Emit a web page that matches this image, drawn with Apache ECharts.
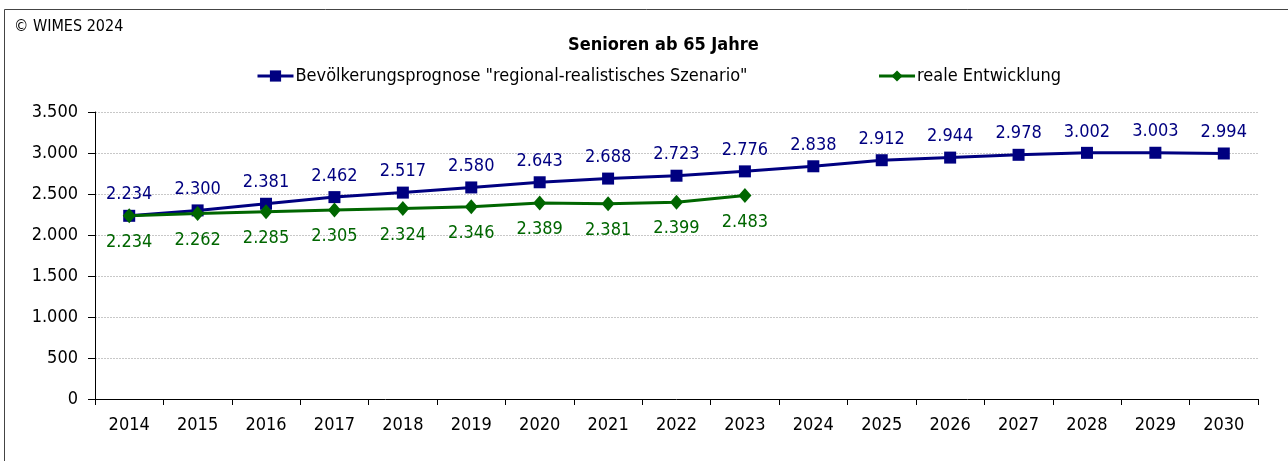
<!DOCTYPE html>
<html>
<head>
<meta charset="utf-8">
<script src="https://cdn.jsdelivr.net/npm/echarts@6/dist/echarts.min.js"></script>
<style>
  html, body { margin: 0; padding: 0; background: #fff; }
  #main { width: 1288px; height: 461px; }
</style>
</head>
<body>
<div id="main"></div>
<script>
// Jahre (Kategorien)
const years = ['2014', '2015', '2016', '2017', '2018', '2019', '2020', '2021', '2022',
  '2023', '2024', '2025', '2026', '2027', '2028', '2029', '2030'];
// Bevölkerungsprognose "regional-realistisches Szenario"
const prognose = [2234, 2300, 2381, 2462, 2517, 2580, 2643, 2688, 2723, 2776,
  2838, 2912, 2944, 2978, 3002, 3003, 2994];
// reale Entwicklung (bis 2023)
const real = [2234, 2262, 2285, 2305, 2324, 2346, 2389, 2381, 2399, 2483];

const FONT = '"DejaVu Sans Condensed", "DejaVu Sans", sans-serif';
const BLUE = '#000080';
const GREEN = '#006600';

// deutsche Tausenderpunkte
function fmt(v) {
  return String(v).replace(/\B(?=(\d{3})+(?!\d))/g, '.');
}

let myChart = echarts.init(document.getElementById('main'));
let options = {
  animation: false,
  backgroundColor: '#fff',
  textStyle: { fontFamily: FONT },
  title: {
    text: 'Senioren ab 65 Jahre',
    left: 563,
    top: 31,
    textStyle: { fontFamily: FONT, fontSize: 18, fontWeight: 'bold', color: '#000' }
  },
  legend: {
    left: 256,
    top: 67,
    padding: 0,
    itemWidth: 36,
    itemHeight: 14,
    itemGap: 130,
    lineStyle: { width: 3 },
    textStyle: { fontFamily: FONT, fontSize: 18, color: '#000', padding: [0, 0, 0, -3] },
    data: ['Bevölkerungsprognose "regional-realistisches Szenario"', 'reale Entwicklung']
  },
  graphic: [
    {
      type: 'polyline',
      shape: { points: [[4.5, 461], [4.5, 9.5], [1288, 9.5]] },
      style: { stroke: '#444', lineWidth: 1, fill: null }
    },
    {
      type: 'text',
      left: 14,
      top: 19,
      style: { text: '© WIMES 2024', font: '16px ' + FONT, fill: '#000' }
    }
  ],
  grid: { left: 95, right: 30, top: 112, bottom: 62 },
  xAxis: {
    type: 'category',
    data: years,
    boundaryGap: true,
    axisLine: { lineStyle: { color: '#000', width: 1 } },
    axisTick: { show: true, length: 6, lineStyle: { color: '#000' } },
    axisLabel: { color: '#000', fontFamily: FONT, fontSize: 18, margin: 17 }
  },
  yAxis: {
    type: 'value',
    min: 0,
    max: 3500,
    interval: 500,
    axisLine: { show: true, lineStyle: { color: '#000', width: 1 } },
    axisTick: { show: true, length: 7, lineStyle: { color: '#000' } },
    axisLabel: { color: '#000', fontFamily: FONT, fontSize: 18, margin: 17, formatter: fmt },
    splitLine: { lineStyle: { color: '#c8c8c8', type: [2, 1], width: 1 } }
  },
  series: [
    {
      name: 'Bevölkerungsprognose "regional-realistisches Szenario"',
      type: 'line',
      data: prognose,
      symbol: 'rect',
      symbolSize: 12,
      lineStyle: { color: BLUE, width: 3 },
      itemStyle: { color: BLUE },
      label: {
        show: true,
        position: 'top',
        distance: 6,
        color: BLUE,
        fontFamily: FONT,
        fontSize: 18,
        formatter: p => fmt(p.value)
      },
      z: 2
    },
    {
      name: 'reale Entwicklung',
      type: 'line',
      data: real,
      symbol: 'diamond',
      symbolSize: [13, 15],
      lineStyle: { color: GREEN, width: 3 },
      itemStyle: { color: GREEN },
      label: {
        show: true,
        position: 'bottom',
        distance: 10,
        color: GREEN,
        fontFamily: FONT,
        fontSize: 18,
        formatter: p => fmt(p.value)
      },
      z: 3
    }
  ]
};
myChart.setOption(options, true);
</script>
</body>
</html>
